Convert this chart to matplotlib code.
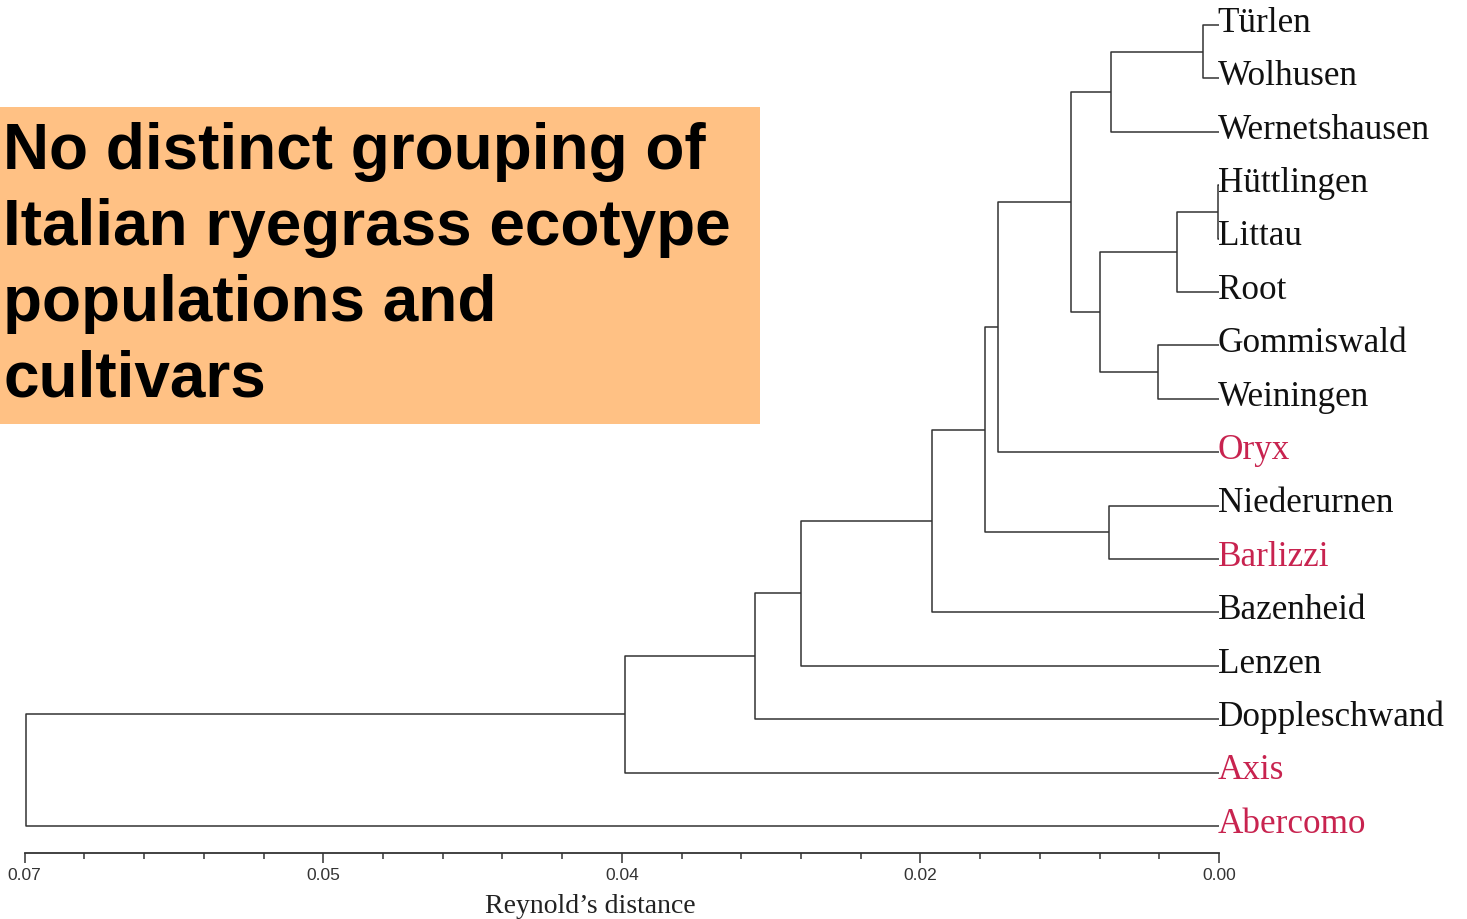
import numpy as np
import matplotlib
matplotlib.use("Agg")
import matplotlib.pyplot as plt
from matplotlib.patches import Rectangle

# leaves, top to bottom
leaves = ["Türlen", "Wolhusen", "Wernetshausen", "Hüttlingen", "Littau", "Root",
          "Gommiswald", "Weiningen", "Oryx", "Niederurnen", "Barlizzi", "Bazenheid",
          "Lenzen", "Doppleschwand", "Axis", "Abercomo"]
cultivars = ["Oryx", "Barlizzi", "Axis", "Abercomo"]

# merges: (name, left child, right child, distance)
merges = [
    ("A", "Türlen", "Wolhusen", 0.0011),
    ("B", "A", "Wernetshausen", 0.00725),
    ("C", "Hüttlingen", "Littau", 0.0001),
    ("D", "C", "Root", 0.0028),
    ("E", "Gommiswald", "Weiningen", 0.0041),
    ("F", "D", "E", 0.0080),
    ("G", "B", "F", 0.0099),
    ("H", "G", "Oryx", 0.0148),
    ("I", "Niederurnen", "Barlizzi", 0.0074),
    ("J", "H", "I", 0.0157),
    ("K", "J", "Bazenheid", 0.0192),
    ("L", "K", "Lenzen", 0.0280),
    ("M", "L", "Doppleschwand", 0.0311),
    ("N", "M", "Axis", 0.0398),
    ("O", "N", "Abercomo", 0.0799),
]

major_ticks = [0.08, 0.06, 0.04, 0.02, 0.0]
major_labels = ["0.07", "0.05", "0.04", "0.02", "0.00"]
minor_ticks = np.arange(0, 0.0801, 0.004)

title = "No distinct grouping of\nItalian ryegrass ecotype\npopulations and\ncultivars"

W, H = 1467, 920
fig = plt.figure(figsize=(W / 100, H / 100), dpi=100)
x_left, x_right = 24.7, 1219
y_top, y_bot = -0.7, 853.7
ax = fig.add_axes([x_left / W, 1 - y_bot / H, (x_right - x_left) / W, (y_bot - y_top) / H])

line_kw = dict(color="#333333", lw=1.1, solid_capstyle="butt")
pos = {name: (0.0, i) for i, name in enumerate(leaves)}
for name, a, b, d in merges:
    xa, ya = pos[a]
    xb, yb = pos[b]
    ax.plot([xa, d, d, xb], [ya, ya, yb, yb], **line_kw)
    pos[name] = (d, (ya + yb) / 2)

red = "#C8234F"
for i, name in enumerate(leaves):
    ax.text(0.0001, i + 0.11, name, ha="left", va="baseline",
            fontsize=25.3, family="Liberation Serif",
            color=red if name in cultivars else "#111111")

ax.set_xlim(0.08, 0.0)
ax.set_ylim(15.5, -0.5)
for s in ["top", "left", "right"]:
    ax.spines[s].set_visible(False)
ax.spines["bottom"].set_color("#333333")
ax.spines["bottom"].set_linewidth(1.3)
ax.set_yticks([])
ax.set_xticks(major_ticks)
ax.set_xticklabels(major_labels, family="Liberation Sans")
ax.set_xticks(minor_ticks, minor=True)
ax.tick_params(axis="x", which="major", direction="out", length=7, width=1.1,
               color="#333333", labelsize=12.5, labelcolor="#333333", pad=3)
ax.tick_params(axis="x", which="minor", direction="out", length=4, width=1.1,
               color="#333333")
ax.set_xlabel("Reynold\u2019s distance", family="Liberation Serif", fontsize=20,
              color="#222222")
ax.xaxis.set_label_coords((590 - x_left) / (x_right - x_left), -(907 - y_bot) / (y_bot - y_top))
ax.xaxis.label.set_va("center")
ax.patch.set_visible(False)

fig.patches.append(Rectangle((0, 1 - 425 / H), 760 / W, (425 - 108) / H,
                             transform=fig.transFigure, facecolor="#FFC184",
                             edgecolor="none", zorder=0))
fig.text(3 / W, 1 - 122 / H, title, ha="left", va="top", fontsize=46,
         fontweight="bold", family="Liberation Sans", linespacing=1.34, color="black")

fig.savefig("out.png", dpi=100)
